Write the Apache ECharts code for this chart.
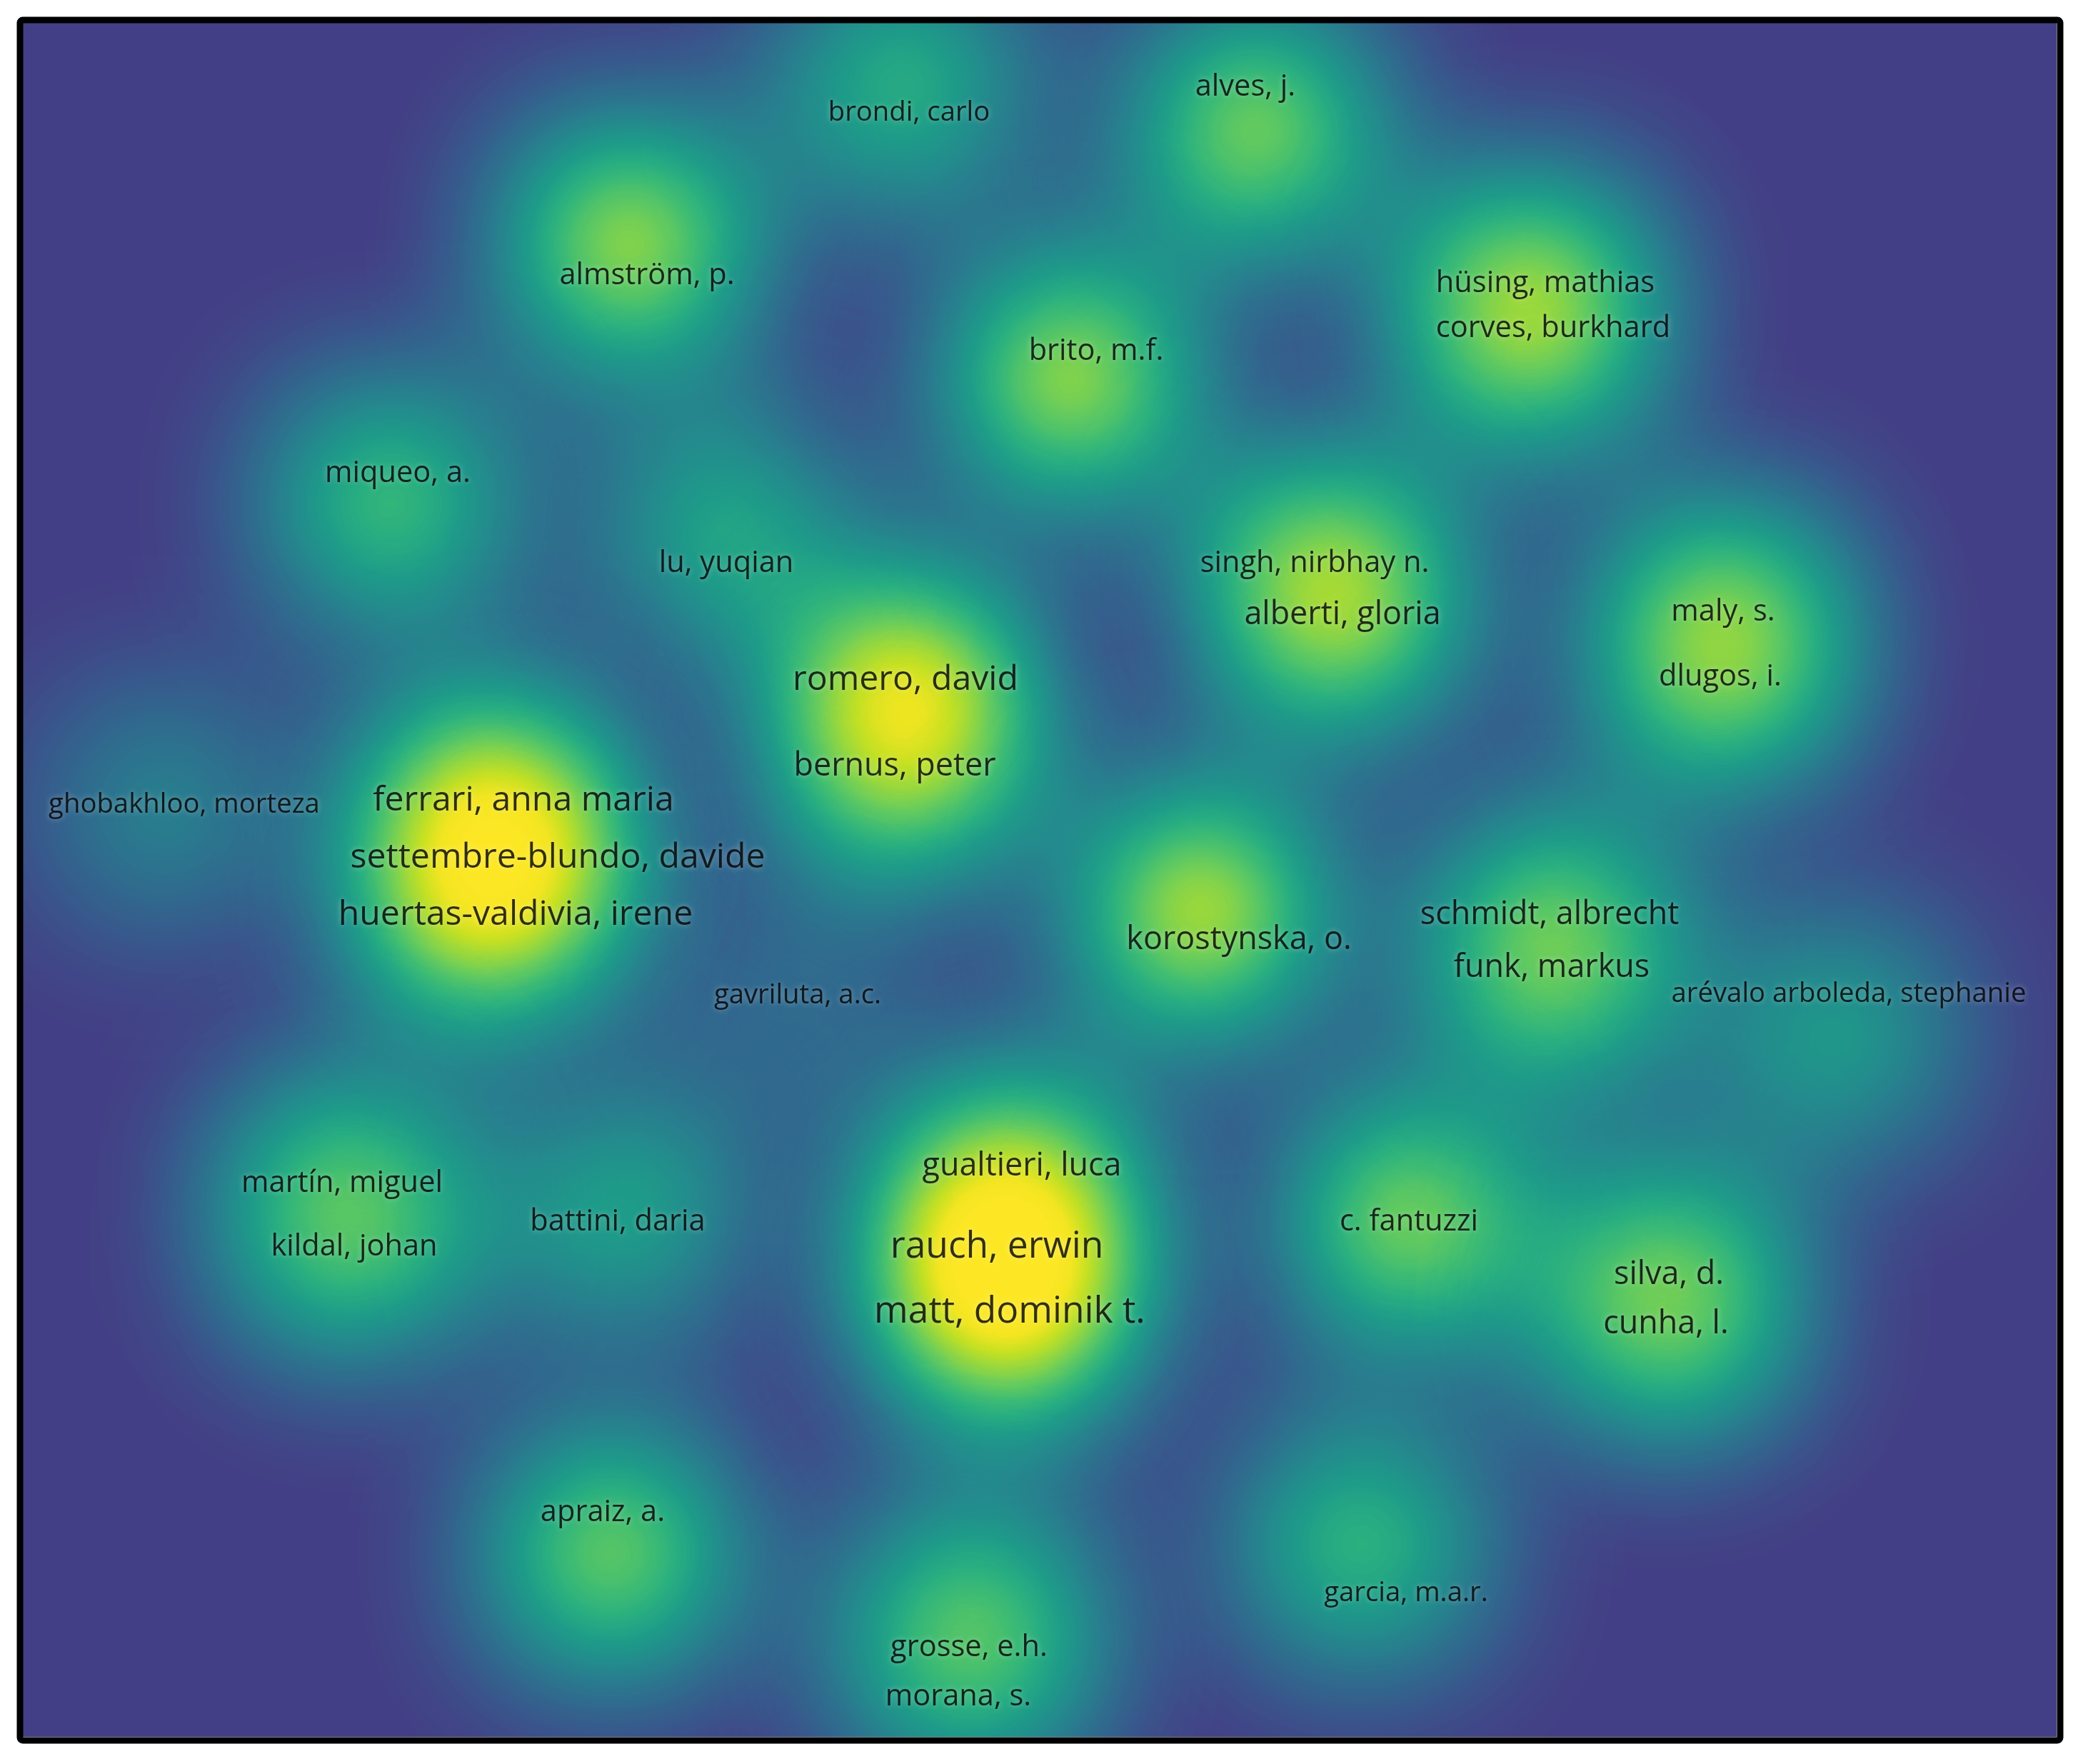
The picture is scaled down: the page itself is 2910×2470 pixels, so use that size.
<!DOCTYPE html>
<html>
<head>
<meta charset="utf-8">
<title>co-authorship density</title>
<script src="https://cdn.jsdelivr.net/npm/echarts@6.0.0/dist/echarts.min.js"></script>
<style>
  html, body { margin: 0; padding: 0; background: #fff; }
  #main { width: 2910px; height: 2470px; }
</style>
</head>
<body>
<div id="main"></div>
<script>
// map size (units = px of the plot box)
var mapW = 2848, mapH = 2400;

var authors = ['brondi, carlo', 'alves, j.', 'almström, p.', 'hüsing, mathias', 'corves, burkhard',
  'brito, m.f.', 'miqueo, a.', 'lu, yuqian', 'singh, nirbhay n.', 'alberti, gloria',
  'maly, s.', 'dlugos, i.', 'romero, david', 'bernus, peter', 'ghobakhloo, morteza',
  'ferrari, anna maria', 'settembre-blundo, davide', 'huertas-valdivia, irene', 'korostynska, o.', 'schmidt, albrecht',
  'funk, markus', 'arévalo arboleda, stephanie', 'gavriluta, a.c.', 'gualtieri, luca', 'rauch, erwin',
  'matt, dominik t.', 'martín, miguel', 'kildal, johan', 'battini, daria', 'c. fantuzzi',
  'silva, d.', 'cunha, l.', 'apraiz, a.', 'garcia, m.a.r.', 'grosse, e.h.', 'morana, s.'];

// item coordinates in the map (y grows downward) - centre of each density bump
var itemX = [1230, 1726, 850, 2102, 2113, 1468, 516, 981, 1809, 1848,
  2381, 2377, 1241, 1226, 200, 645, 694, 634, 1649, 2141,
  2145, 2535, 1082, 1399, 1364, 1382, 447, 464, 840, 1941,
  2305, 2301, 824, 1874, 1334, 1319];
var itemY = [89, 152, 310, 373, 436, 499, 673, 710, 757, 829,
  825, 916, 937, 1054, 1100, 1089, 1169, 1249, 1243, 1262,
  1336, 1420, 1379, 1601, 1714, 1805, 1625, 1714, 1665, 1679,
  1753, 1822, 2143, 2130, 2227, 2295];

// label anchor coordinates in the map
var labelX = [1241, 1712, 874, 2132, 2143, 1503, 525, 985, 1809, 1848,
  2381, 2377, 1236, 1221, 226, 701, 749, 690, 1703, 2138,
  2141, 2557, 1085, 1399, 1364, 1382, 447, 464, 833, 1941,
  2305, 2301, 812, 1937, 1325, 1310];
var labelY = [126, 90, 354, 365, 428, 460, 631, 757, 757, 829,
  825, 916, 920, 1041, 1095, 1089, 1169, 1249, 1284, 1249,
  1323, 1360, 1362, 1601, 1714, 1805, 1625, 1714, 1679, 1679,
  1753, 1822, 2086, 2199, 2275, 2344];

// item weight used for the density
var density = [64, 87, 94, 60, 60, 94, 71, 58, 55, 70,
  60, 60, 96, 56, 36, 68, 68, 68, 100, 53,
  53, 52, 23, 50, 90, 80, 50, 50, 56, 88,
  53, 53, 83, 68, 48, 48];

// documents (drives label size)
var documents = [1, 2, 2, 2, 2, 2, 2, 2, 2, 3,
  2, 2, 4, 3, 1, 4, 4, 4, 3, 3,
  3, 1, 1, 3, 5, 5, 2, 2, 2, 2,
  3, 3, 2, 1, 2, 2];

var densityColors = ['#433f86', '#3a548b', '#31678e', '#2a798e', '#238b8d', '#1e9b89', '#27ad81',
  '#41bd72', '#66cb5d', '#94d740', '#c4e023', '#f3e521', '#fde725', '#fde725', '#fde725',
  '#fde725', '#fde725', '#fde725', '#fde725', '#fde725', '#fde725'];

echarts.registerMap('field', {
  type: 'FeatureCollection',
  features: [{
    type: 'Feature',
    properties: { name: 'field' },
    geometry: { type: 'Polygon', coordinates: [[[0, 0], [mapW, 0], [mapW, mapH], [0, mapH], [0, 0]]] }
  }]
});

var heatData = [];
var labelData = [];
for (var i = 0; i < authors.length; i++) {
  heatData.push([itemX[i], mapH - itemY[i], density[i]]);
  labelData.push({
    name: authors[i],
    value: [labelX[i], mapH - labelY[i], documents[i]],
    label: { fontSize: 35 + 3.3 * documents[i] }
  });
}

var myChart = echarts.init(document.getElementById('main'));
var option = {
  backgroundColor: '#fff',
  animation: false,
  geo: {
    map: 'field',
    roam: false,
    silent: true,
    aspectScale: 1,
    left: 32,
    top: 32,
    width: mapW,
    height: mapH,
    label: { show: false },
    itemStyle: { areaColor: '#433f86', borderWidth: 0 },
    emphasis: { disabled: true },
    select: { disabled: true }
  },
  visualMap: {
    show: false,
    type: 'continuous',
    seriesIndex: 0,
    min: 0,
    max: 100,
    inRange: { color: densityColors }
  },
  series: [
    {
      type: 'heatmap',
      coordinateSystem: 'geo',
      pointSize: 130,
      blurSize: 240,
      minOpacity: 1,
      maxOpacity: 1,
      data: heatData
    },
    {
      type: 'scatter',
      coordinateSystem: 'geo',
      symbolSize: 1,
      itemStyle: { color: 'rgba(0,0,0,0)' },
      silent: true,
      label: {
        show: true,
        position: 'inside',
        formatter: '{b}',
        fontFamily: 'Open Sans',
        color: '#000',
        textShadowColor: 'rgba(255,255,255,0.5)',
        textShadowBlur: 8
      },
      labelLayout: { hideOverlap: false },
      emphasis: { disabled: true },
      data: labelData
    }
  ],
  graphic: [{
    type: 'rect',
    silent: true,
    z: 100,
    shape: { x: 28, y: 28, width: 2857, height: 2409, r: 4 },
    style: { fill: 'none', stroke: '#000', lineWidth: 9 }
  }]
};
myChart.setOption(option);
</script>
</body>
</html>
